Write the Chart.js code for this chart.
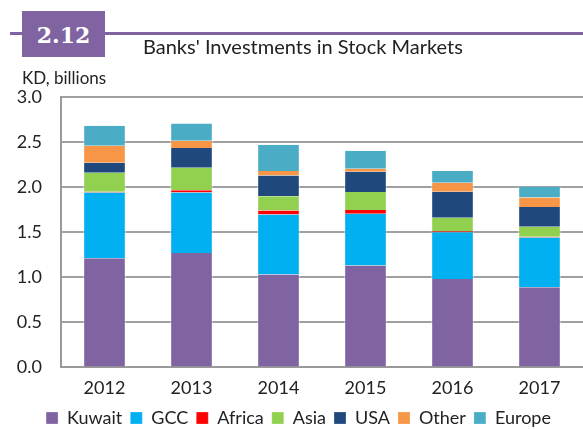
<!DOCTYPE html>
<html>
<head>
<meta charset="utf-8">
<script src="https://cdn.jsdelivr.net/npm/chart.js@4"></script>
<style>
  body { margin:0; background:#fff; }
  #wrap { position:relative; width:583px; height:429px; overflow:hidden; }
  #chart { position:absolute; left:0; top:0; }
  .rule { position:absolute; left:10px; top:32px; width:573px; height:3px; background:#8064A2; }
  .badge { position:absolute; left:22px; top:11px; width:83px; height:46px; background:#8064A2;
           color:#fff; font:bold 22px "DejaVu Serif", serif; text-align:center; line-height:48px; }
  .title { position:absolute; left:143px; top:34px; font:20px Lato, sans-serif; color:#222; }
  .unit { position:absolute; left:22px; top:67px; font:17px Lato, sans-serif; color:#222; }
</style>
</head>
<body>
<div id="wrap">
  <canvas id="chart" width="583" height="429"></canvas>
  <div class="rule"></div>
  <div class="badge">2.12</div>
  <div class="title">Banks' Investments in Stock Markets</div>
  <div class="unit">KD, billions</div>
</div>
<script>
let years=['2012','2013','2014','2015','2016','2017'];
let kuwait=[1.21,1.27,1.03,1.13,0.98,0.89];
let gcc=[0.73,0.67,0.665,0.575,0.52,0.55];
let africa=[0.01,0.025,0.045,0.04,0.01,0.01];
let asia=[0.21,0.25,0.16,0.2,0.15,0.11];
let usa=[0.11,0.22,0.23,0.225,0.29,0.22];
let other=[0.19,0.08,0.05,0.035,0.10,0.105];
let europe=[0.22,0.19,0.29,0.2,0.13,0.12];

const ctx=document.getElementById('chart').getContext('2d');

function ds(label,data,color){
    return {label:label,data:data,backgroundColor:color,
        borderColor:'rgba(255,255,255,0.5)',borderWidth:{left:1,right:1},
        barPercentage:0.49,categoryPercentage:1};
}

// keep the legend compact so the plot reaches down like the original
const tightLegend={
    id:'tightLegend',
    beforeInit(chart){
        const fit=chart.legend.fit;
        chart.legend.fit=function(){
            fit.bind(chart.legend)();
            this.height=28;
        };
    }
};

new Chart(ctx,{
    type:'bar',
    data:{
        labels:years,
        datasets:[
            ds('Kuwait',kuwait,'#8064A2'),
            ds('GCC',gcc,'#00B0F0'),
            ds('Africa',africa,'#FF0000'),
            ds('Asia',asia,'#92D050'),
            ds('USA',usa,'#1F497D'),
            ds('Other',other,'#F79646'),
            ds('Europe',europe,'#4BACC6')
        ]
    },
    plugins:[tightLegend],
    options:{
        responsive:false,
        animation:false,
        layout:{padding:{top:97,left:14,right:0,bottom:0}},
        plugins:{
            tooltip:{enabled:false},
            legend:{
                position:'bottom',
                labels:{boxWidth:12,boxHeight:12,padding:8,color:'#222',
                    font:{family:'Lato',size:18}}
            }
        },
        scales:{
            x:{
                stacked:true,
                grid:{display:false},
                border:{color:'#999',width:2},
                ticks:{color:'#222',font:{family:'Lato',size:18},padding:2}
            },
            y:{
                stacked:true,
                min:0,max:3,
                afterFit:function(scale){scale.width=47;},
                border:{color:'#999',width:2},
                grid:{color:'#a0a0a0',lineWidth:2,drawTicks:false},
                ticks:{stepSize:0.5,color:'#222',padding:19,
                    font:{family:'Lato',size:18},
                    callback:function(v){return v.toFixed(1);}}
            }
        }
    }
});
</script>
</body>
</html>
